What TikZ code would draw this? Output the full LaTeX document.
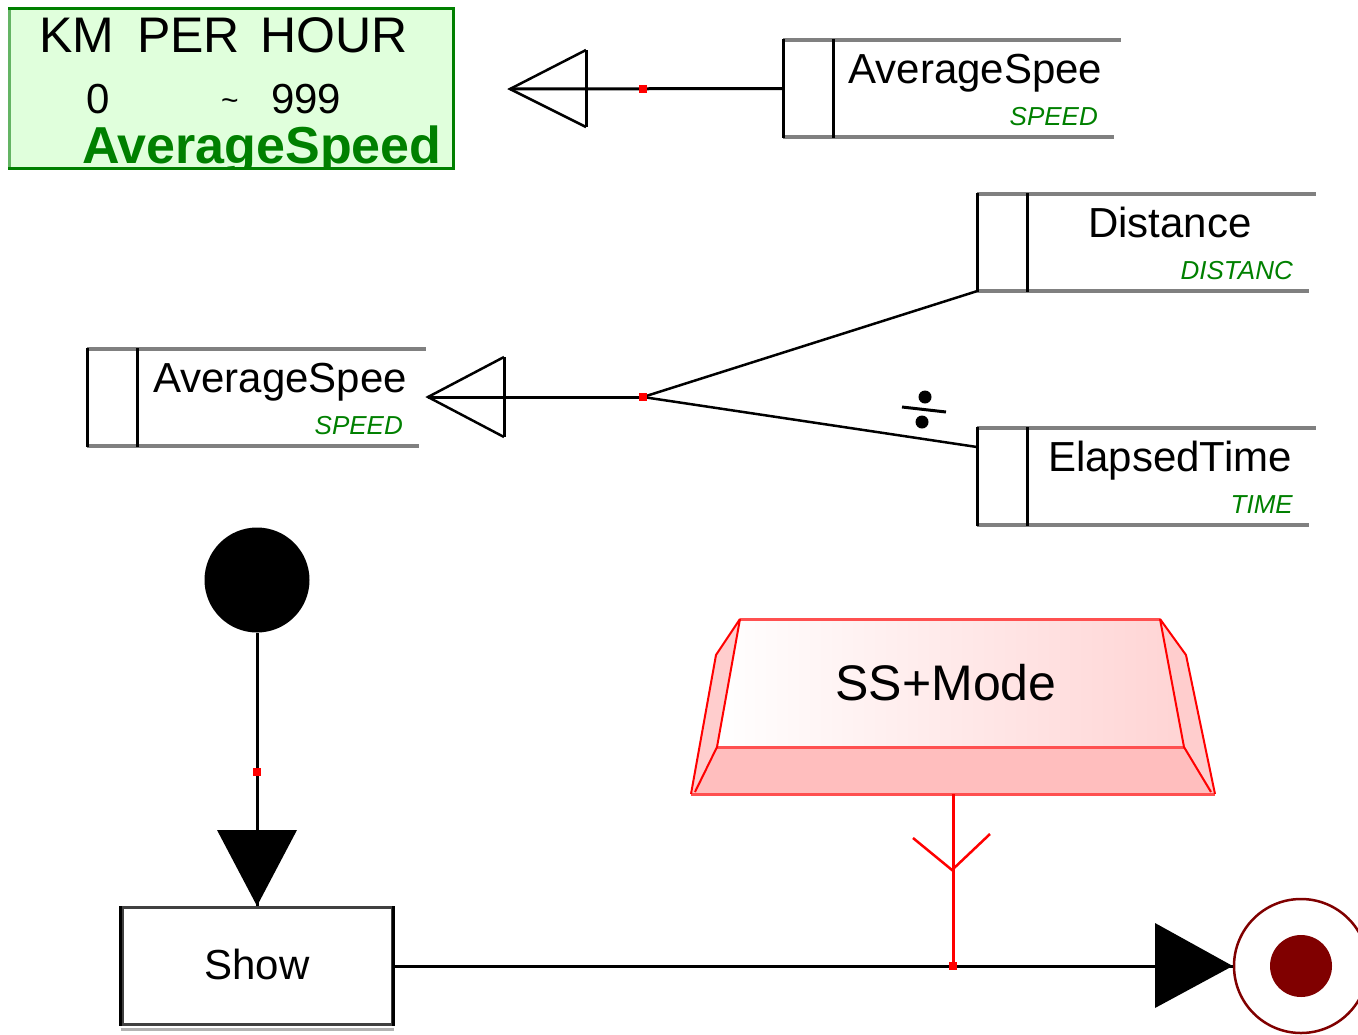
\documentclass[tikz,border=0pt]{standalone}
\usepackage{fontspec}
\setmainfont{Liberation Sans}
\usetikzlibrary{fit}
\definecolor{umlgreen}{RGB}{0,128,0}
\definecolor{boxgreen}{RGB}{224,255,220}
\definecolor{boxgreenlight}{RGB}{100,180,100}
\definecolor{storegray}{RGB}{128,128,128}
\definecolor{finalred}{RGB}{128,0,0}
\definecolor{markred}{RGB}{255,0,0}
\definecolor{ssedge}{RGB}{255,80,80}
\definecolor{ssband}{RGB}{255,190,190}
\definecolor{ssside}{RGB}{255,205,205}
\definecolor{sstop}{RGB}{255,212,212}
\newcommand\datastore[6]{%
  \coordinate (#1-a) at (#2,#3);
  \coordinate (#1-b) at (#4,{#3+97});
  \node[fit=(#1-a)(#1-b), inner sep=0pt] (#1) {};
  \draw[storeline] (#2,#3) -- ({#4+3},#3);
  \draw[storeline] (#2,{#3+97}) -- ({#4-4},{#3+97});
  \draw[storeedge] (#2,{#3-1}) -- (#2,{#3+98});
  \draw[storeedge] ({#2+50},{#3-1}) -- ({#2+50},{#3+98});
  \node[titlefont, anchor=base] (#1-title) at ({(#2+50+#4)/2},{#3+43}) {#5};
  \node[typefont, anchor=base east] (#1-type) at ({#4-20},{#3+85}) {#6};
}
\begin{document}
\begin{tikzpicture}[x=1pt,y=-1pt,
  conn/.style={line width=3pt, black},
  thinconn/.style={line width=2.5pt, black},
  storeline/.style={line width=4pt, storegray},
  storeedge/.style={line width=3pt, black},
  redmark/.style={fill=markred, inner sep=0pt, minimum size=8pt, draw=none, rectangle},
  titlefont/.style={font=\fontsize{42}{48}\selectfont, inner sep=0pt},
  typefont/.style={font=\fontsize{26}{30}\selectfont\itshape, text=umlgreen, inner sep=0pt},
  showbox/.style={draw=black!75, line width=3pt, minimum width=270pt, minimum height=117pt, inner sep=0pt, font=\fontsize{42}{48}\selectfont},
]
\useasboundingbox (0,0) rectangle (1358,1034);

% ---- gauge box
\node[draw=umlgreen, fill=boxgreen, line width=3pt, minimum width=444pt, minimum height=160pt, inner sep=0pt] (gauge) at (231.5,88.5) {};
\draw[line width=3pt, boxgreenlight] (9.5,10) -- (9.5,167);
\begin{scope}
\clip (11,10) rectangle (452,167);
\node[anchor=base west, inner sep=0pt, font=\fontsize{50}{58}\selectfont] (g1) at (39,52) {KM \hspace{9pt}PER \hspace{7pt}HOUR};
\node[anchor=base west, inner sep=0pt, font=\fontsize{42}{48}\selectfont] (g2) at (86,113) {0};
\node[anchor=base west, inner sep=0pt, font=\fontsize{30}{36}\selectfont] (g3) at (221,110) {\char`\~};
\node[anchor=base west, inner sep=0pt, font=\fontsize{42}{48}\selectfont] (g4) at (271,113) {999};
\node[anchor=base west, inner sep=0pt, font=\fontsize{52}{60}\selectfont\bfseries, text=umlgreen] (g5) at (82,163) {AverageSpeed};
\end{scope}

% ---- data stores
\datastore{st1}{783}{40}{1118}{AverageSpee}{SPEED}
\datastore{st2}{87}{349}{423}{AverageSpee}{SPEED}
\datastore{st3}{977}{194}{1313}{Distance}{DISTANC}
\datastore{st4}{977}{428}{1313}{ElapsedTime}{TIME}

% ---- row 1 connector
\coordinate (tip1) at (510,89);
\draw[conn] (st1.west) -- (tip1);
\draw[thinconn] (586,50) -- (tip1) -- (586,127);
\draw[conn] (586,50) -- (586,127);
\node[redmark] (m1) at (643,89) {};

% ---- row 2 connectors
\coordinate (tip2) at (428,397);
\coordinate (j2) at (643,397);
\coordinate (e4) at (977,447);
\draw[conn] (j2) -- (tip2);
\draw[thinconn] (504,357) -- (tip2) -- (504,437);
\draw[conn] (504,357) -- (504,437);
\draw[thinconn] (j2) -- (st3.south west);
\draw[thinconn] (j2) -- (e4);
\node[redmark] (m2) at (j2) {};
% division sign
\fill (925,397) circle[radius=6.5pt];
\draw[line width=3pt] (902,407) -- (946,412);
\fill (922,422) circle[radius=6.5pt];

% ---- initial node and Show
\node[circle, fill=black, inner sep=0pt, minimum size=105pt] (init) at (257,580) {};
\node[showbox] (show) at (257,966) {\raisebox{3pt}{Show}};
\draw[line width=3pt] (show.north west) -- (show.south west) (show.north east) -- (show.south east);
\draw[line width=3pt, black!30] ([yshift=-3pt]show.south west) -- ([yshift=-3pt]show.south east);
\draw[conn] (init.south) -- (show.north);
\fill (show.north) -- (217,830) -- (297,830) -- cycle;
\node[redmark] (m3) at (257,772) {};

% ---- final node
\node[circle, draw=finalred, line width=2.5pt, minimum size=134pt, inner sep=0pt] (final) at (1301,966) {};
\fill[finalred] (final.center) circle[radius=31pt];
\draw[conn] (show.east) -- (final.west);
\fill (final.west) -- (1155,923) -- (1155,1008) -- cycle;

% ---- SS+Mode
\shade[left color=white, right color=sstop] (740,619) -- (1160,619) -- (1184,747) -- (717,747) -- cycle;
\fill[ssband] (717,747) -- (1184,747) -- (1215,794) -- (691,794) -- cycle;
\fill[ssside] (740,619) -- (716,655) -- (691,794) -- (717,747) -- cycle;
\fill[ssside] (1160,619) -- (1186,655) -- (1215,794) -- (1184,747) -- cycle;
\draw[ssedge, line width=3pt] (740,619) -- (1160,619);
\draw[ssedge, line width=3pt] (717,747) -- (1184,747);
\draw[ssedge, line width=3pt] (691,794) -- (1215,794);
\draw[markred, line width=2pt] (740,619) -- (716,655) -- (691,794);
\draw[markred, line width=2pt] (740,619) -- (717,747) -- (695,792);
\draw[markred, line width=2pt] (1160,619) -- (1186,655) -- (1215,794);
\draw[markred, line width=2pt] (1160,619) -- (1184,747) -- (1211,792);
\coordinate (ssa) at (691,619);
\coordinate (ssb) at (1215,794);
\node[fit=(ssa)(ssb), inner sep=0pt] (ssbox) {};
\node[anchor=base, inner sep=0pt, font=\fontsize{50}{56}\selectfont] (sslabel) at (946,700) {SS+Mode};

\coordinate (j3) at (953,966);
\draw[line width=3pt, markred] (ssbox.south) -- (j3);
\draw[line width=2.5pt, markred] (913,838) -- (952,870) -- (990,834);
\node[redmark] (m4) at (j3) {};
\end{tikzpicture}
\end{document}
